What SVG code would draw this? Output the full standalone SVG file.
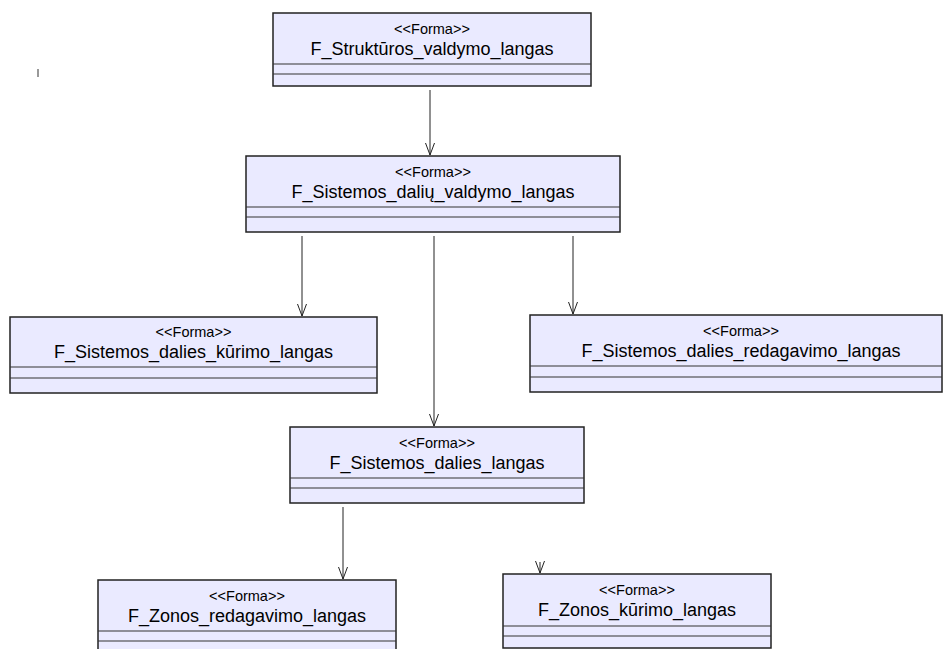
<svg xmlns="http://www.w3.org/2000/svg" width="944" height="649" viewBox="0 0 944 649">
<defs>
<marker id="v" markerUnits="userSpaceOnUse" markerWidth="14" markerHeight="12" refX="12" refY="5" orient="auto" overflow="visible">
<path d="M0,0.5 L12,5 L0,9.5" fill="none" stroke="#222" stroke-width="1"/>
</marker>
</defs>
<style>
.box{fill:#EAEAFF;stroke:#222;stroke-width:1.5}
.sep{stroke:#333;stroke-width:1.2}
.st{font-family:"Liberation Sans",Arial,sans-serif;font-size:14.5px;fill:#000;text-anchor:middle}
.nm{font-family:"Liberation Sans",Arial,sans-serif;font-size:18px;fill:#000;text-anchor:middle}
.cn{stroke:#222;stroke-width:1;fill:none;marker-end:url(#v)}
</style>
<rect width="944" height="649" fill="#fff"/>
<line x1="38" y1="69" x2="38" y2="77" stroke="#555" stroke-width="1.2"/>
<g id="connectors">
<line class="cn" x1="430" y1="90" x2="430" y2="155"/>
<line class="cn" x1="302" y1="236" x2="302" y2="316"/>
<line class="cn" x1="434" y1="236" x2="434" y2="426"/>
<line class="cn" x1="573" y1="236" x2="573" y2="314"/>
<line class="cn" x1="343" y1="507" x2="343" y2="579"/>
<line class="cn" x1="540" y1="562" x2="540" y2="573"/>
</g>
<g id="n1">
<rect class="box" x="273" y="13" width="318" height="73"/>
<line class="sep" x1="273" y1="64" x2="591" y2="64"/>
<line class="sep" x1="273" y1="74" x2="591" y2="74"/>
<text class="st" x="432" y="34">&lt;&lt;Forma&gt;&gt;</text>
<text class="nm" x="432" y="55">F_Struktūros_valdymo_langas</text>
</g>
<g id="n2">
<rect class="box" x="246" y="156" width="374" height="76"/>
<line class="sep" x1="246" y1="207" x2="620" y2="207"/>
<line class="sep" x1="246" y1="217" x2="620" y2="217"/>
<text class="st" x="433" y="177">&lt;&lt;Forma&gt;&gt;</text>
<text class="nm" x="433" y="198">F_Sistemos_dalių_valdymo_langas</text>
</g>
<g id="n3">
<rect class="box" x="10" y="317" width="367" height="76"/>
<line class="sep" x1="10" y1="367" x2="377" y2="367"/>
<line class="sep" x1="10" y1="378" x2="377" y2="378"/>
<text class="st" x="193.5" y="337">&lt;&lt;Forma&gt;&gt;</text>
<text class="nm" x="193.5" y="358">F_Sistemos_dalies_kūrimo_langas</text>
</g>
<g id="n4">
<rect class="box" x="530" y="315" width="412" height="77"/>
<line class="sep" x1="530" y1="366" x2="942" y2="366"/>
<line class="sep" x1="530" y1="377" x2="942" y2="377"/>
<text class="st" x="741" y="336">&lt;&lt;Forma&gt;&gt;</text>
<text class="nm" x="741" y="357">F_Sistemos_dalies_redagavimo_langas</text>
</g>
<g id="n5">
<rect class="box" x="290" y="427" width="294" height="76"/>
<line class="sep" x1="290" y1="478" x2="584" y2="478"/>
<line class="sep" x1="290" y1="488" x2="584" y2="488"/>
<text class="st" x="437" y="448">&lt;&lt;Forma&gt;&gt;</text>
<text class="nm" x="437" y="469">F_Sistemos_dalies_langas</text>
</g>
<g id="n6">
<rect class="box" x="98" y="580" width="298" height="76"/>
<line class="sep" x1="98" y1="631" x2="396" y2="631"/>
<line class="sep" x1="98" y1="641" x2="396" y2="641"/>
<text class="st" x="247" y="601">&lt;&lt;Forma&gt;&gt;</text>
<text class="nm" x="247" y="622">F_Zonos_redagavimo_langas</text>
</g>
<g id="n7">
<rect class="box" x="503" y="574" width="268" height="74"/>
<line class="sep" x1="503" y1="626" x2="771" y2="626"/>
<line class="sep" x1="503" y1="636" x2="771" y2="636"/>
<text class="st" x="637" y="595">&lt;&lt;Forma&gt;&gt;</text>
<text class="nm" x="637" y="616">F_Zonos_kūrimo_langas</text>
</g>
</svg>
